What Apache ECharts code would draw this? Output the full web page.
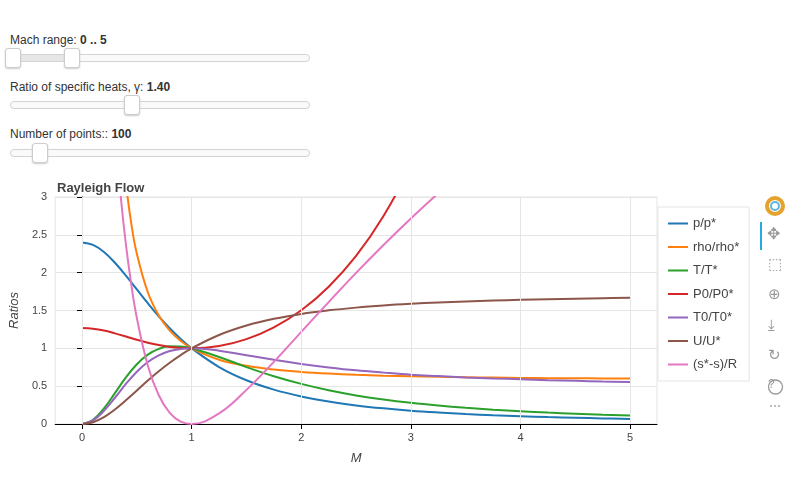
<!DOCTYPE html>
<html>
<head>
<meta charset="utf-8">
<script src="https://cdn.jsdelivr.net/npm/echarts@6/dist/echarts.min.js"></script>
<style>
body{margin:0;font-family:"Liberation Sans",Arial,sans-serif;font-size:12px;color:#333}
.lbl{position:absolute;left:10px}
.track{position:absolute;left:10px;width:298px;height:6px;border:1px solid #d3d3d3;border-radius:4px;background:#fafafa}
.fill{position:absolute;top:0;height:6px;background:#e6e6e6}
.h{position:absolute;top:-7px;width:14px;height:18px;border:1px solid #ccc;border-radius:3px;background:#fff;box-shadow:0 1px 2px #ccc}
#chart{position:absolute;left:0;top:170px;width:800px;height:330px}
</style>
</head>
<body>
<div class="lbl" style="top:33px">Mach range: <b>0 .. 5</b></div>
<div class="track" style="top:54px"><div class="fill" style="left:2px;width:58px"></div><div class="h" style="left:-6px"></div><div class="h" style="left:53px"></div></div>
<div class="lbl" style="top:80px">Ratio of specific heats, γ: <b>1.40</b></div>
<div class="track" style="top:101px"><div class="h" style="left:113px"></div></div>
<div class="lbl" style="top:127px">Number of points:: <b>100</b></div>
<div class="track" style="top:149px"><div class="h" style="left:21px"></div></div>
<div id="chart"></div>
<script>
var chart = echarts.init(document.getElementById('chart'))

// Mach numbers shared by most curves
var mach = [0, 0.1, 0.2, 0.3, 0.4, 0.5, 0.6, 0.7, 0.8, 0.9, 1, 1.25, 1.5, 1.75, 2, 2.25, 2.5, 2.75, 3, 3.25, 3.5, 3.75, 4, 4.25, 4.5, 4.75, 5]
var pRatio = [2.4, 2.367, 2.273, 2.131, 1.961, 1.778, 1.596, 1.423, 1.266, 1.125, 1, 0.753, 0.578, 0.454, 0.364, 0.297, 0.246, 0.207, 0.176, 0.152, 0.132, 0.116, 0.103, 0.091, 0.082, 0.074, 0.067]
var tRatio = [0, 0.056, 0.207, 0.409, 0.615, 0.790, 0.917, 0.993, 1.026, 1.025, 1, 0.886, 0.752, 0.631, 0.530, 0.446, 0.378, 0.324, 0.280, 0.244, 0.214, 0.189, 0.169, 0.151, 0.136, 0.122, 0.111]
var t0Ratio = [0, 0.047, 0.174, 0.347, 0.529, 0.691, 0.819, 0.908, 0.964, 0.992, 1, 0.969, 0.909, 0.848, 0.794, 0.748, 0.709, 0.679, 0.652, 0.633, 0.615, 0.601, 0.592, 0.579, 0.570, 0.562, 0.556]
var uRatio = [0, 0.024, 0.091, 0.192, 0.314, 0.444, 0.575, 0.698, 0.810, 0.911, 1, 1.176, 1.301, 1.390, 1.455, 1.502, 1.538, 1.566, 1.588, 1.606, 1.620, 1.631, 1.641, 1.649, 1.656, 1.662, 1.667]
var machP0 = [0, 0.1, 0.2, 0.3, 0.4, 0.5, 0.6, 0.7, 0.8, 0.9, 1, 1.25, 1.5, 1.75, 2, 2.25, 2.5, 2.75, 3, 3.25]
var p0Ratio = [1.268, 1.259, 1.235, 1.198, 1.157, 1.114, 1.075, 1.043, 1.019, 1.005, 1, 1.030, 1.121, 1.277, 1.503, 1.815, 2.221, 2.749, 3.42, 4.27]
var machRho = [0.3, 0.35, 0.4, 0.45, 0.5, 0.6, 0.7, 0.8, 0.9, 1, 1.25, 1.5, 1.75, 2, 2.25, 2.5, 2.75, 3, 3.25, 3.5, 3.75, 4, 4.25, 4.5, 4.75, 5]
var rhoRatio = [5.21, 3.985, 3.19, 2.641, 2.25, 1.741, 1.434, 1.234, 1.098, 1, 0.850, 0.769, 0.719, 0.688, 0.666, 0.650, 0.639, 0.630, 0.623, 0.617, 0.613, 0.609, 0.606, 0.604, 0.602, 0.600]
var machS = [0.3, 0.35, 0.4, 0.45, 0.5, 0.6, 0.7, 0.8, 0.9, 1, 1.25, 1.5, 1.75, 2, 2.25, 2.5, 2.75, 3, 3.25]
var sRatio = [3.89, 3.05, 2.373, 1.835, 1.40, 0.771, 0.380, 0.147, 0.031, 0, 0.140, 0.451, 0.821, 1.218, 1.611, 1.997, 2.366, 2.717, 3.05]
var xTicks = [0, 1, 2, 3, 4, 5]

function pairs(xs, ys) { return xs.map(function (x, i) { return [x, ys[i]] }) }

var curves = [
    {name: 'p/p*', color: '#1f77b4', data: pairs(mach, pRatio)},
    {name: 'rho/rho*', color: '#ff7f0e', data: pairs(machRho, rhoRatio)},
    {name: 'T/T*', color: '#2ca02c', data: pairs(mach, tRatio)},
    {name: 'P0/P0*', color: '#d62728', data: pairs(machP0, p0Ratio)},
    {name: 'T0/T0*', color: '#9467bd', data: pairs(mach, t0Ratio)},
    {name: 'U/U*', color: '#8c564b', data: pairs(mach, uRatio)},
    {name: '(s*-s)/R', color: '#e377c2', data: pairs(machS, sRatio)}
]

var series = curves.map(function (c) {
    return {name: c.name, type: 'line', data: c.data, smooth: 0.4, showSymbol: false,
        itemStyle: {color: c.color}, lineStyle: {width: 2, color: c.color}, clip: true}
})
// vertical grid lines
series.push({type: 'line', data: [], silent: true,
    markLine: {symbol: 'none', silent: true, label: {show: false},
        lineStyle: {color: '#e5e5e5', type: 'solid', width: 1},
        data: xTicks.map(function (v) { return {xAxis: v} })}})

var option = {
    backgroundColor: '#fff',
    animation: false,
    title: {text: 'Rayleigh Flow', left: 52, top: 7, textStyle: {fontSize: 13, fontWeight: 'bold', color: '#444'}},
    grid: {left: 53, top: 27, right: 143, bottom: 76, show: true, borderColor: '#e5e5e5', borderWidth: 1},
    legend: {orient: 'vertical', left: 658, top: 37, padding: [10, 10, 10, 10], itemWidth: 20, itemHeight: 12, itemGap: 10.5,
        borderColor: '#e5e5e5', borderWidth: 1, backgroundColor: '#fff',
        textStyle: {fontSize: 13, color: '#444'}, icon: 'path://M0,5L20,5L20,7L0,7Z',
        data: curves.map(function (c) { return c.name })},
    xAxis: {type: 'value', min: -0.245, max: 5.245, name: 'M', nameLocation: 'middle', nameGap: 28,
        nameTextStyle: {fontStyle: 'italic', fontSize: 13, color: '#444'},
        axisLine: {lineStyle: {color: '#000'}}, splitLine: {show: false},
        axisTick: {customValues: xTicks, length: 5, lineStyle: {color: '#000'}},
        axisLabel: {customValues: xTicks, color: '#444', fontSize: 11}},
    yAxis: {type: 'value', min: 0, max: 3, interval: 0.5, name: 'Ratios', nameLocation: 'middle', nameGap: 32,
        nameTextStyle: {fontStyle: 'italic', fontSize: 13, color: '#444'},
        axisLine: {show: true, lineStyle: {color: '#000'}},
        axisTick: {show: true, length: 5, lineStyle: {color: '#000'}},
        axisLabel: {color: '#444', fontSize: 11},
        splitLine: {lineStyle: {color: '#e5e5e5'}}},
    graphic: [
        {type: 'circle', shape: {cx: 775, cy: 36, r: 8}, style: {fill: 'none', stroke: '#e5a32d', lineWidth: 4}},
        {type: 'circle', shape: {cx: 775, cy: 36, r: 4}, style: {fill: '#fff', stroke: '#5bb5e0', lineWidth: 2}},
        {type: 'rect', shape: {x: 760, y: 52, width: 2, height: 28}, style: {fill: '#26aae1'}},
        {type: 'text', left: 767, top: 57, style: {text: '✥', fontSize: 16, fill: '#999'}},
        {type: 'text', left: 768, top: 87, style: {text: '⬚', fontSize: 15, fill: '#999'}},
        {type: 'text', left: 768, top: 117, style: {text: '⊕', fontSize: 15, fill: '#999'}},
        {type: 'text', left: 768, top: 148, style: {text: '⤓', fontSize: 15, fill: '#999'}},
        {type: 'text', left: 768, top: 178, style: {text: '↻', fontSize: 15, fill: '#999'}},
        {type: 'text', left: 768, top: 209, style: {text: '?', fontSize: 12, fill: '#999'}},
        {type: 'circle', shape: {cx: 775.5, cy: 217, r: 7}, style: {fill: 'none', stroke: '#999', lineWidth: 1.3}},
        {type: 'text', left: 769, top: 231, style: {text: '⋯', fontSize: 12, fill: '#999'}}
    ],
    series: series
}

chart.setOption(option);
</script>
</body>
</html>
